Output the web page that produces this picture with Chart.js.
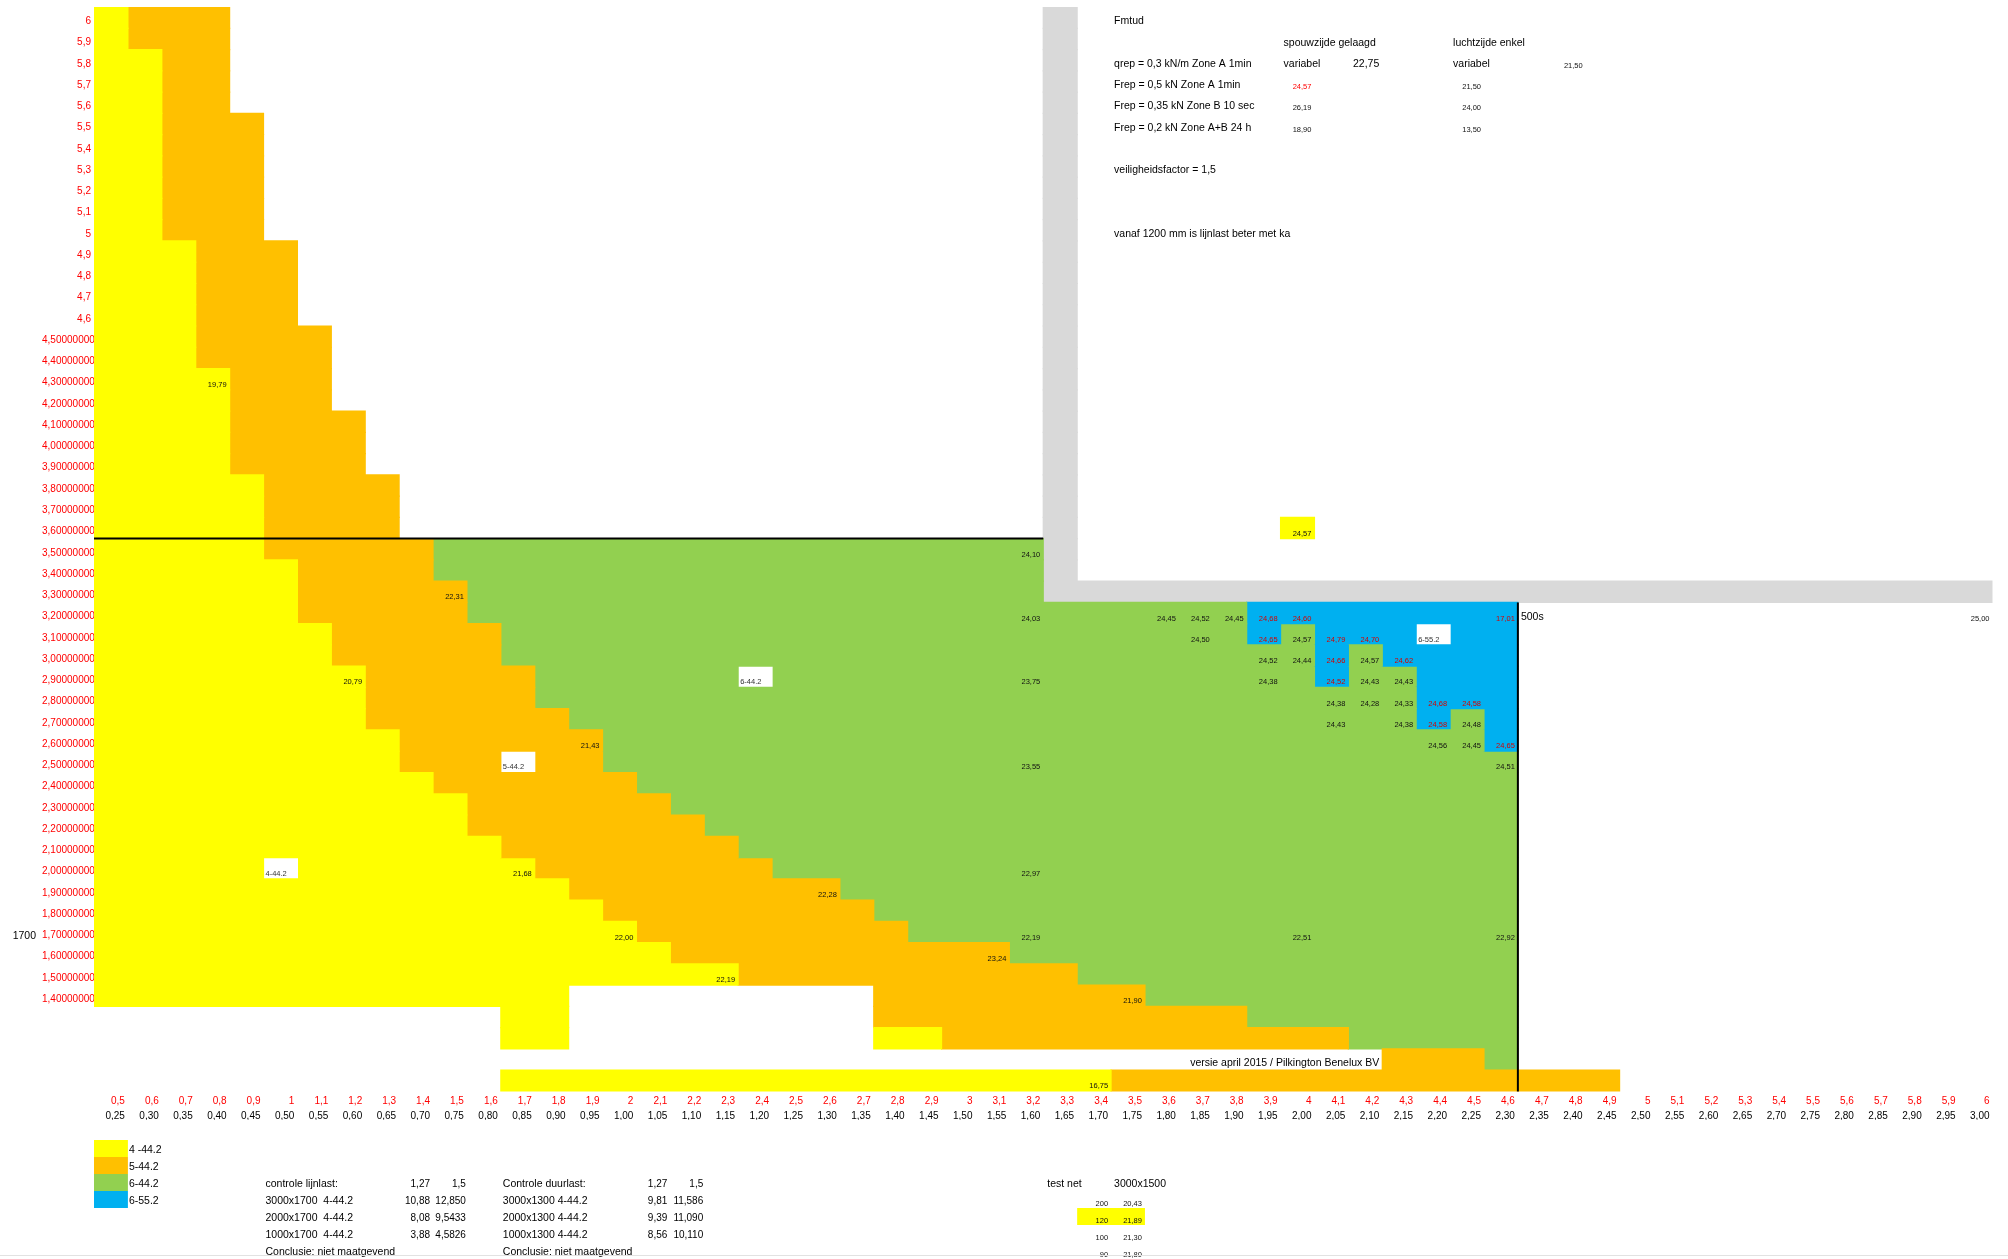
<!DOCTYPE html>
<html>
<head>
<meta charset="utf-8">
<title>Glasdikte tabel</title>
<script src="https://cdn.jsdelivr.net/npm/chart.js@4.4.1/dist/chart.umd.min.js"></script>
<style>
  html, body { margin: 0; padding: 0; background: #fff; }
  canvas { display: block; }
</style>
</head>
<body>
<canvas id="zoneChart" width="2008" height="1259"></canvas>
<script>
// row labels (height, m) - long ones overflow into the grid like in the sheet
const rowLabels = ['6', '5,9', '5,8', '5,7', '5,6', '5,5', '5,4', '5,3', '5,2', '5,1', '5',
  '4,9', '4,8', '4,7', '4,6',
  '4,50000000000000', '4,40000000000000', '4,30000000000000', '4,20000000000000', '4,10000000000000',
  '4,00000000000000', '3,90000000000000', '3,80000000000000', '3,70000000000000', '3,60000000000000',
  '3,50000000000000', '3,40000000000000', '3,30000000000000', '3,20000000000000', '3,10000000000000',
  '3,00000000000000', '2,90000000000000', '2,80000000000000', '2,70000000000000', '2,60000000000000',
  '2,50000000000000', '2,40000000000000', '2,30000000000000', '2,20000000000000', '2,10000000000000',
  '2,00000000000000', '1,90000000000000', '1,80000000000000', '1,70000000000000', '1,60000000000000',
  '1,50000000000000', '1,40000000000000', '', '', '', ''];

// column labels: width (red) and half width (black)
const colLabelsWidth = ['0,5', '0,6', '0,7', '0,8', '0,9', '1', '1,1', '1,2', '1,3', '1,4', '1,5', '1,6',
  '1,7', '1,8', '1,9', '2', '2,1', '2,2', '2,3', '2,4', '2,5', '2,6', '2,7', '2,8', '2,9', '3', '3,1',
  '3,2', '3,3', '3,4', '3,5', '3,6', '3,7', '3,8', '3,9', '4', '4,1', '4,2', '4,3', '4,4', '4,5', '4,6',
  '4,7', '4,8', '4,9', '5', '5,1', '5,2', '5,3', '5,4', '5,5', '5,6', '5,7', '5,8', '5,9', '6'];
const colLabelsHalf = ['0,25', '0,30', '0,35', '0,40', '0,45', '0,50', '0,55', '0,60', '0,65', '0,70',
  '0,75', '0,80', '0,85', '0,90', '0,95', '1,00', '1,05', '1,10', '1,15', '1,20', '1,25', '1,30', '1,35',
  '1,40', '1,45', '1,50', '1,55', '1,60', '1,65', '1,70', '1,75', '1,80', '1,85', '1,90', '1,95', '2,00',
  '2,05', '2,10', '2,15', '2,20', '2,25', '2,30', '2,35', '2,40', '2,45', '2,50', '2,55', '2,60', '2,65',
  '2,70', '2,75', '2,80', '2,85', '2,90', '2,95', '3,00'];

// glass type per cell, run-length per row: Y=4-44.2 O=5-44.2 G=6-44.2 B=6-55.2 S=grey W=white tag .=empty
const zoneRows = [
  'Y1 O3 .24 S1 .27', 'Y1 O3 .24 S1 .27',
  'Y2 O2 .24 S1 .27', 'Y2 O2 .24 S1 .27', 'Y2 O2 .24 S1 .27',
  'Y2 O3 .23 S1 .27', 'Y2 O3 .23 S1 .27', 'Y2 O3 .23 S1 .27',
  'Y2 O3 .23 S1 .27', 'Y2 O3 .23 S1 .27', 'Y2 O3 .23 S1 .27',
  'Y3 O3 .22 S1 .27', 'Y3 O3 .22 S1 .27', 'Y3 O3 .22 S1 .27', 'Y3 O3 .22 S1 .27',
  'Y3 O4 .21 S1 .27', 'Y3 O4 .21 S1 .27',
  'Y4 O3 .21 S1 .27', 'Y4 O3 .21 S1 .27',
  'Y4 O4 .20 S1 .27', 'Y4 O4 .20 S1 .27', 'Y4 O4 .20 S1 .27',
  'Y5 O4 .19 S1 .27', 'Y5 O4 .19 S1 .27', 'Y5 O4 .19 S1 .6 Y1 .20',
  'Y5 O5 G18 S1 .27',
  'Y6 O4 G18 S1 .27',
  'Y6 O5 G17 S28',
  'Y6 O5 G23 B8 .14',
  'Y7 O5 G22 B1 G1 B3 W1 B2 .14',
  'Y7 O5 G24 B1 G1 B4 .14',
  'Y8 O5 G6 W1 G16 B1 G2 B3 .14',
  'Y8 O5 G26 B3 .14',
  'Y8 O6 G25 B1 G1 B1 .14',
  'Y9 O6 G26 B1 .14',
  'Y9 O3 W1 O2 G27 .14',
  'Y10 O6 G26 .14',
  'Y11 O6 G25 .14',
  'Y11 O7 G24 .14',
  'Y12 O7 G23 .14',
  'Y5 W1 Y7 O7 G22 .14',
  'Y14 O8 G20 .14',
  'Y15 O8 G19 .14',
  'Y16 O8 G18 .14',
  'Y17 O10 G15 .14',
  'Y19 O10 G13 .14',
  'Y14 .9 O8 G11 .14',
  '.12 Y2 .9 O11 G8 .14',
  '.12 Y2 .9 Y2 O12 G5 .14',
  '.38 O3 G1 .14',
  '.12 Y18 O15 .11'
];

// computed stress values written in the cells [row, col, text]
const gridValues = [
  [17, 3, '19,79'], [24, 35, '24,57'], [25, 27, '24,10'], [27, 10, '22,31'],
  [28, 27, '24,03'], [28, 31, '24,45'], [28, 32, '24,52'], [28, 33, '24,45'], [28, 34, '24,68'],
  [28, 35, '24,60'], [28, 41, '17,01'], [28, 55, '25,00'],
  [29, 32, '24,50'], [29, 34, '24,65'], [29, 35, '24,57'], [29, 36, '24,79'], [29, 37, '24,70'],
  [30, 34, '24,52'], [30, 35, '24,44'], [30, 36, '24,66'], [30, 37, '24,57'], [30, 38, '24,62'],
  [31, 7, '20,79'], [31, 27, '23,75'], [31, 34, '24,38'], [31, 36, '24,52'], [31, 37, '24,43'], [31, 38, '24,43'],
  [32, 36, '24,38'], [32, 37, '24,28'], [32, 38, '24,33'], [32, 39, '24,68'], [32, 40, '24,58'],
  [33, 36, '24,43'], [33, 38, '24,38'], [33, 39, '24,58'], [33, 40, '24,48'],
  [34, 14, '21,43'], [34, 39, '24,56'], [34, 40, '24,45'], [34, 41, '24,65'],
  [35, 27, '23,55'], [35, 41, '24,51'],
  [40, 12, '21,68'], [40, 27, '22,97'], [41, 21, '22,28'],
  [43, 15, '22,00'], [43, 27, '22,19'], [43, 35, '22,51'], [43, 41, '22,92'],
  [44, 26, '23,24'], [45, 18, '22,19'], [46, 30, '21,90'], [50, 29, '16,75']
];
const typeTags = [[29, 39, '6-55.2'], [31, 19, '6-44.2'], [35, 12, '5-44.2'], [40, 5, '4-44.2']];

// notes block top right
const infoLeft = [
  [0, 30, 'Fmtud'], [1, 35, 'spouwzijde gelaagd'], [1, 40, 'luchtzijde enkel'],
  [2, 30, 'qrep = 0,3 kN/m Zone A 1min'], [2, 35, 'variabel'], [2, 40, 'variabel'],
  [3, 30, 'Frep = 0,5 kN Zone A 1min'], [4, 30, 'Frep = 0,35 kN Zone B 10 sec'],
  [5, 30, 'Frep = 0,2 kN Zone A+B 24 h'], [7, 30, 'veiligheidsfactor = 1,5'],
  [10, 30, 'vanaf 1200 mm is lijnlast beter met ka'], [28, 42, '500s']
];
const infoRight = [[2, 37, '22,75'], [49, 37, 'versie april 2015 / Pilkington Benelux BV']];
const infoSmall = [[2, 43, '21,50'], [3, 40, '21,50'], [4, 35, '26,19'], [4, 40, '24,00'],
  [5, 35, '18,90'], [5, 40, '13,50']];
const infoSmallRed = [[3, 35, '24,57']];

// legend and check tables under the sheet
const legendItems = [['Y', '4 -44.2'], ['O', '5-44.2'], ['G', '6-44.2'], ['B', '6-55.2']];
const lineLoadCheck = [['controle lijnlast:', '1,27', '1,5'], ['3000x1700  4-44.2', '10,88', '12,850'],
  ['2000x1700  4-44.2', '8,08', '9,5433'], ['1000x1700  4-44.2', '3,88', '4,5826'],
  ['Conclusie: niet maatgevend', '', '']];
const durationCheck = [['Controle duurlast:', '1,27', '1,5'], ['3000x1300 4-44.2', '9,81', '11,586'],
  ['2000x1300 4-44.2', '9,39', '11,090'], ['1000x1300 4-44.2', '8,56', '10,110'],
  ['Conclusie: niet maatgevend', '', '']];
const testNetHeader = ['test net', '3000x1500'];
const testNetRows = [['200', '20,43'], ['120', '21,89'], ['100', '21,30'], ['90', '21,80']];
const testNetMarked = '120';

const FONT = "'Liberation Sans', Arial, sans-serif";
const BIG = '10.5px ' + FONT;
const NUM = '10px ' + FONT;
const SMALL = '7.5px ' + FONT;
const zoneColors = { Y: '#ffff00', O: '#ffc000', G: '#92d050', B: '#00b0f0', S: '#d9d9d9', W: '#ffffff' };

function parseRuns(spec) {
  let col = 0;
  const runs = [];
  spec.split(' ').forEach(tok => {
    const code = tok[0], n = parseInt(tok.slice(1), 10);
    if (code !== '.') runs.push({ code, start: col, end: col + n });
    col += n;
  });
  return runs;
}
const rowRuns = zoneRows.map(parseRuns);
function zoneAt(r, c) {
  const run = rowRuns[r].find(u => c >= u.start && c < u.end);
  return run ? run.code : '.';
}

const maxRuns = Math.max(...rowRuns.map(r => r.length));
const datasets = [];
for (let j = 0; j < maxRuns; j++) {
  datasets.push({
    data: rowRuns.map(r => (r[j] ? [r[j].start, r[j].end] : null)),
    backgroundColor: rowRuns.map(r => (r[j] ? zoneColors[r[j].code] : 'rgba(0,0,0,0)')),
    borderWidth: 0,
    grouped: false,
    barPercentage: 1,
    categoryPercentage: 1,
    inflateAmount: 0.6
  });
}

function noPad(scale) {
  scale.paddingTop = 0; scale.paddingBottom = 0; scale.paddingLeft = 0; scale.paddingRight = 0;
}
function colAxis(labels, color, weight) {
  return {
    type: 'linear', position: 'bottom', min: 0, max: 56, weight: weight,
    grid: { display: false, drawTicks: false }, border: { display: false },
    afterBuildTicks: s => { s.ticks = labels.map((_, i) => ({ value: i + 1 })); },
    afterFit: s => { s.height = 14.3; noPad(s); },
    ticks: {
      autoSkip: false, maxRotation: 0, minRotation: 0, align: 'end', labelOffset: -3, padding: 4.3,
      color: color, font: { size: 10, family: FONT },
      callback: (v, i) => labels[i]
    }
  };
}

const sheetOverlay = {
  id: 'sheetOverlay',
  afterDatasetsDraw(chart) {
    const { ctx, chartArea } = chart;
    const xs = chart.scales.x, ys = chart.scales.y;
    const rowH = ys.getPixelForValue(1) - ys.getPixelForValue(0);
    const rowTop = r => ys.getPixelForValue(r) - rowH / 2;
    const colX = c => xs.getPixelForValue(c);
    ctx.save();

    ctx.strokeStyle = '#000';
    ctx.lineWidth = 2;
    ctx.beginPath();
    ctx.moveTo(colX(0), rowTop(25)); ctx.lineTo(colX(28), rowTop(25));
    ctx.moveTo(colX(42), rowTop(28)); ctx.lineTo(colX(42), chartArea.bottom);
    ctx.stroke();

    ctx.textBaseline = 'alphabetic';
    ctx.font = SMALL;
    ctx.textAlign = 'right';
    gridValues.forEach(([r, c, t]) => {
      ctx.fillStyle = zoneAt(r, c) === 'B' ? '#d40000' : '#111';
      ctx.fillText(t, colX(c + 1) - 3, rowTop(r + 1) - 3);
    });
    infoSmall.forEach(([r, c, t]) => {
      ctx.fillStyle = '#111';
      ctx.fillText(t, colX(c + 1) - 3, rowTop(r + 1) - 3);
    });
    infoSmallRed.forEach(([r, c, t]) => {
      ctx.fillStyle = '#ff0000';
      ctx.fillText(t, colX(c + 1) - 3, rowTop(r + 1) - 3);
    });
    ctx.textAlign = 'left';
    ctx.fillStyle = '#333';
    typeTags.forEach(([r, c, t]) => ctx.fillText(t, colX(c) + 2, rowTop(r + 1) - 3));

    ctx.font = BIG;
    ctx.fillStyle = '#000';
    infoLeft.forEach(([r, c, t]) => ctx.fillText(t, colX(c) + 3, rowTop(r + 1) - 4));
    ctx.textAlign = 'right';
    infoRight.forEach(([r, c, t]) => ctx.fillText(t, colX(c + 1) - 3, rowTop(r + 1) - 4));
    ctx.fillText('1700', 36, rowTop(44) - 4);
    ctx.restore();
  },
  afterDraw(chart) {
    const { ctx, chartArea } = chart;
    const xs = chart.scales.x;
    const colX = c => xs.getPixelForValue(c);
    const lowTop = k => chartArea.bottom + 48.6 + 17 * k;
    const lowBase = k => lowTop(k + 1) - 4;
    ctx.save();
    ctx.textBaseline = 'alphabetic';
    ctx.font = BIG;

    legendItems.forEach(([code, label], k) => {
      ctx.fillStyle = zoneColors[code];
      ctx.fillRect(colX(0), lowTop(k), colX(1) - colX(0), 17);
      ctx.fillStyle = '#000';
      ctx.textAlign = 'left';
      ctx.fillText(label, colX(1) + 1, lowBase(k));
    });

    [[lineLoadCheck, 5, 9], [durationCheck, 12, 16]].forEach(([rows, c0, cNum]) => {
      rows.forEach(([txt, a, b], k) => {
        ctx.font = BIG;
        ctx.textAlign = 'left';
        ctx.fillText(txt, colX(c0) + 2, lowBase(k + 2));
        ctx.font = NUM;
        ctx.textAlign = 'right';
        ctx.fillText(a, colX(cNum + 1) - 3, lowBase(k + 2));
        ctx.fillText(b, colX(cNum + 2) - 1, lowBase(k + 2));
      });
    });

    ctx.font = BIG;
    ctx.textAlign = 'left';
    ctx.fillText(testNetHeader[0], colX(28) + 4, lowBase(2));
    ctx.fillText(testNetHeader[1], colX(30) + 3, lowBase(2));
    ctx.font = SMALL;
    testNetRows.forEach(([h, v], k) => {
      if (h === testNetMarked) {
        ctx.fillStyle = zoneColors.Y;
        ctx.fillRect(colX(29), lowTop(k + 3), colX(31) - colX(29), 17);
      }
      ctx.fillStyle = '#111';
      ctx.textAlign = 'right';
      ctx.fillText(h, colX(30) - 3, lowBase(k + 3) + 2);
      ctx.fillText(v, colX(31) - 3, lowBase(k + 3) + 2);
    });

    ctx.strokeStyle = '#e2e2e2';
    ctx.lineWidth = 1;
    ctx.beginPath();
    ctx.moveTo(0, chart.height - 3.5); ctx.lineTo(chart.width, chart.height - 3.5);
    ctx.stroke();
    ctx.restore();
  }
};

const ctx = document.getElementById('zoneChart').getContext('2d');
const zoneChart = new Chart(ctx, {
  type: 'bar',
  data: { labels: rowLabels, datasets: datasets },
  options: {
    indexAxis: 'y',
    responsive: false,
    animation: false,
    devicePixelRatio: 1,
    layout: { padding: { left: 42, top: 7.1, right: 15.5, bottom: 139 } },
    plugins: { legend: { display: false }, tooltip: { enabled: false } },
    scales: {
      x: colAxis(colLabelsWidth, '#ff0000', 0),
      x2: colAxis(colLabelsHalf, '#000000', 1),
      y: {
        type: 'category', position: 'left', offset: true, weight: 0,
        grid: { display: false, drawTicks: false }, border: { display: false },
        afterFit: s => { s.width = 52; noPad(s); },
        ticks: {
          autoSkip: false, padding: 3, crossAlign: 'near', labelOffset: 3.5,
          color: '#ff0000', font: { size: 10, family: FONT },
          callback: (v, i) => (rowLabels[i].length <= 3 ? rowLabels[i] : '')
        }
      },
      y2: {
        type: 'category', position: 'left', offset: true, weight: 1,
        grid: { display: false, drawTicks: false }, border: { display: false },
        afterFit: s => { s.width = 0; noPad(s); },
        ticks: {
          autoSkip: false, padding: 0, mirror: true, crossAlign: 'near', labelOffset: 3.5,
          color: '#ff0000', font: { size: 10, family: FONT },
          callback: (v, i) => (rowLabels[i].length > 3 ? rowLabels[i] : '')
        }
      }
    }
  },
  plugins: [sheetOverlay]
});
</script>
</body>
</html>
